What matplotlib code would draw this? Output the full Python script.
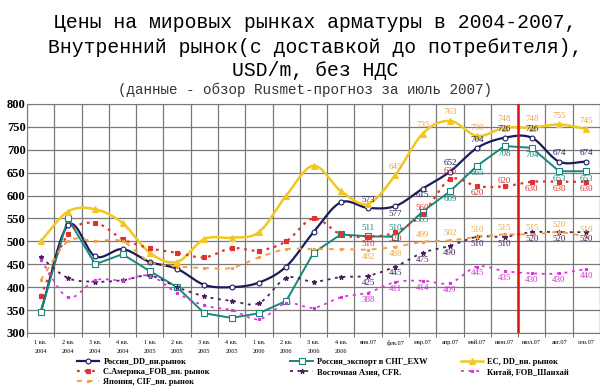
import numpy as np
import matplotlib
matplotlib.use("Agg")
import matplotlib.pyplot as plt
from matplotlib.lines import Line2D

# data (USD/t)
periods = ["1 кв.\n2004", "2 кв.\n2004", "3 кв.\n2004", "4 кв.\n2004",
           "1 кв.\n2005", "2 кв.\n2005", "3 кв.\n2005", "4 кв.\n2005",
           "1 кв.\n2006", "2 кв.\n2006", "3 кв.\n2006", "4 кв.\n2006",
           "янв.07", "фев.07", "мар.07", "апр.07", "май.07", "июн.07",
           "июл.07", "авг.07", "сен.07"]

russia_dd = [345, 535, 467, 483, 455, 440, 405, 400, 410, 445, 520, 585,
             573, 577, 615, 652, 704, 726, 726, 674, 674]
russia_exp = [345, 550, 450, 472, 435, 400, 343, 333, 343, 370, 475, 515,
              511, 510, 565, 609, 665, 708, 704, 653, 653]
eu_dd = [500, 565, 570, 540, 475, 455, 505, 508, 520, 600, 665, 610,
         582, 645, 735, 763, 730, 748, 748, 755, 745]
s_america = [380, 515, 540, 505, 485, 475, 465, 485, 480, 500, 550, 515,
             510, 520, 560, 635, 620, 620, 630, 630, 630]
east_asia = [465, 420, 412, 415, 425, 400, 380, 370, 365, 420, 412, 422,
             425, 445, 475, 490, 510, 510, 520, 520, 520]
china = [460, 378, 415, 415, 425, 387, 360, 350, 330, 365, 355, 378,
         388, 411, 414, 409, 445, 435, 430, 430, 440]
japan = [415, 500, 500, 500, 455, 445, 442, 442, 465, 483, 483, 483,
         482, 488, 499, 502, 510, 515, 515, 520, 510]

FIRST_LABEL = 12  # value labels shown from янв.07

SERIES = [
    # name, values, color, label colour, ls, lw, marker, mfc, ms, smooth, label dy (pt), overrides
    ("Россия_DD_вн.рынок", russia_dd, "#1c1c5c", "#1c1c5c", "-", 1.6, "o", "white", 3.5, True, 6, {13: -6, 14: -4.5}),
    ("Россия_экспорт в СНГ_EXW", russia_exp, "#17877a", "#17877a", "-", 1.4, "s", "white", 4, False, -5.5, {12: 6, 13: 6, 14: -6}),
    ("ЕС, DD_вн. рынок", eu_dd, "#f2c81e", "#e8a050", "-", 1.8, "^", "#f2c81e", 4.5, True, 6, {12: None}),
    ("С.Америка_FOB_вн. рынок", s_america, "#e03030", "#d83030", (0, (1.2, 2.2)), 1.6, "s", "#e03030", 2.2, True, -5, {14: 4.5, 15: 6, 17: 4}),
    ("Восточная Азия, CFR.", east_asia, "#4a1f60", "#4a1f60", (0, (1.6, 2.6)), 1.3, "*", "#4a1f60", 3.5, True, -5, {}),
    ("Китай, FOB_Шанхай", china, "#dd33dd", "#d030d0", (0, (1.6, 2.6)), 1.3, "s", "#dd33dd", 2, True, -5, {}),
    ("Япония, CIF_вн. рынок", japan, "#f0a040", "#e8a848", (0, (2.5, 3)), 1.4, "s", "#f0a040", 2, True, 5, {12: -5, 13: -5}),
]


def catmull_rom(x, y, n=20):
    x = np.asarray(x, float)
    y = np.asarray(y, float)
    px = np.concatenate([[2 * x[0] - x[1]], x, [2 * x[-1] - x[-2]]])
    py = np.concatenate([[2 * y[0] - y[1]], y, [2 * y[-1] - y[-2]]])
    t = np.linspace(0, 1, n, endpoint=False)
    xs, ys = [], []
    for i in range(1, len(px) - 2):
        for p, out in ((px, xs), (py, ys)):
            p0, p1, p2, p3 = p[i - 1], p[i], p[i + 1], p[i + 2]
            out.extend(0.5 * (2 * p1 + (-p0 + p2) * t
                              + (2 * p0 - 5 * p1 + 4 * p2 - p3) * t ** 2
                              + (-p0 + 3 * p1 - 3 * p2 + p3) * t ** 3))
    xs.append(x[-1])
    ys.append(y[-1])
    return np.array(xs), np.array(ys)


fig = plt.figure(figsize=(6.0, 3.89), dpi=100)
ax = fig.add_axes([0.045, 0.144, 0.955, 0.589])

x = np.arange(len(periods))
handles = []
for (name, vals, color, lcolor, ls, lw, mk, mfc, ms, smooth, dy, over) in SERIES:
    if smooth:
        sx, sy = catmull_rom(x, vals)
        ax.plot(sx, sy, color=color, ls=ls, lw=lw, zorder=3)
    else:
        ax.plot(x, vals, color=color, ls=ls, lw=lw, zorder=3)
    ax.plot(x, vals, ls="none", marker=mk, ms=ms, mfc=mfc, mec=color,
            mew=0.8, zorder=4)
    for i in range(FIRST_LABEL, len(vals)):
        off = over.get(i, dy)
        if off is None:
            continue
        ax.annotate(str(vals[i]), (x[i], vals[i]), xytext=(0, off),
                    textcoords="offset points", ha="center", va="center",
                    fontsize=6.5, color=lcolor, family="Liberation Serif",
                    zorder=5)
    handles.append(Line2D([0], [0], color=color, ls=ls, lw=lw, marker=mk,
                          ms=ms, mfc=mfc, mec=color, mew=0.8, label=name))

ax.axvline(17.5, color="#e01010", lw=1.8, zorder=6)

ax.set_xlim(-0.5, len(periods) - 0.5)
ax.set_ylim(300, 800)
ax.set_yticks(np.arange(300, 801, 50))
ax.set_xticks(x)
ax.set_xticklabels(periods, fontsize=4.5, family="Liberation Serif",
                   linespacing=1.9, va="top")
ax.set_xticks(np.arange(-0.5, len(periods), 1), minor=True)
ax.tick_params(axis="x", which="major", length=0, pad=5)
ax.tick_params(axis="x", which="minor", length=3, color="#555555")
ax.tick_params(axis="y", length=0, pad=1)
for lab in ax.get_yticklabels():
    lab.set_fontfamily("Liberation Serif")
    lab.set_fontweight("bold")
    lab.set_fontsize(9)
ax.grid(True, axis="y", color="#7a7a7a", lw=0.9)
ax.grid(True, axis="x", which="minor", color="#7a7a7a", lw=0.9)
ax.set_axisbelow(True)
for s in ax.spines.values():
    s.set_color("#7a7a7a")

title_font = "Liberation Mono"
fig.text(0.525, 0.943, "Цены на мировых рынках арматуры в 2004-2007,",
         ha="center", va="center", fontsize=14.2, family=title_font)
fig.text(0.525, 0.879, "Внутренний рынок(с доставкой до потребителя),",
         ha="center", va="center", fontsize=14.2, family=title_font)
fig.text(0.525, 0.82, "USD/m, без НДС", ha="center", va="center",
         fontsize=14.2, family=title_font)
fig.text(0.508, 0.769, "(данные - обзор Rusmet-прогноз за июль 2007)",
         ha="center", va="center", fontsize=10.3, family=title_font,
         color="#333333")

# legend: three separate columns placed like the original
columns = [([0, 3, 6], 0.128), ([1, 4], 0.484), ([2, 5], 0.768)]
for idx, xpos in columns:
    fig.legend([handles[i] for i in idx], [handles[i].get_label() for i in idx],
               loc="upper left", bbox_to_anchor=(xpos, 0.08), ncol=1,
               frameon=False, borderaxespad=0, borderpad=0,
               handlelength=2.7, handletextpad=0.5, labelspacing=0.25,
               prop={"family": "Liberation Serif", "weight": "bold", "size": 6})

fig.savefig("out.png", dpi=100)
